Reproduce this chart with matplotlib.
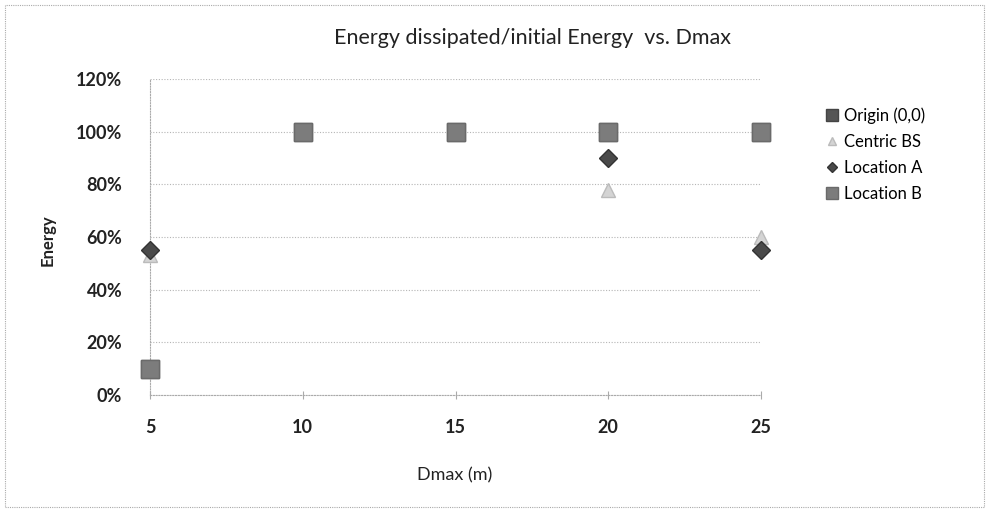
import numpy as np
import matplotlib
matplotlib.use("Agg")
import matplotlib.pyplot as plt
from matplotlib.patches import Rectangle
from matplotlib.ticker import PercentFormatter

plt.rcParams['font.family'] = ['Lato', 'DejaVu Sans']

# data
dmax = [5, 10, 15, 20, 25]
origin = [0.10, 1.00, 1.00, 1.00, 1.00]
centric_bs = [0.53, np.nan, np.nan, 0.78, 0.60]
location_a = [0.55, np.nan, np.nan, 0.90, 0.55]
location_b = [0.10, 1.00, 1.00, 1.00, 1.00]
x_ticks = [5, 10, 15, 20, 25]
y_ticks = [0, 0.2, 0.4, 0.6, 0.8, 1.0, 1.2]

fig = plt.figure(figsize=(9.89, 5.12), dpi=100)
ax = fig.add_axes([150/989, 117/512, 611/989, 316/512])

# outer chart border (excel style)
fig.patches.append(Rectangle((5/989, 5/512), 979/989, 502/512, transform=fig.transFigure,
                             fill=False, ec='#aaaaaa', lw=0.8, ls=(0, (1, 1))))

ax.plot(dmax, origin, 's', ms=13.5, color='#555555', mec='#444444', clip_on=False, zorder=3, label='Origin (0,0)')
ax.plot(dmax, centric_bs, '^', ms=10, color='#d4d4d4', mec='#bbbbbb', clip_on=False, zorder=4, label='Centric BS')
ax.plot(dmax, location_a, 'D', ms=9, color='#4a4a4a', mec='#333333', clip_on=False, zorder=5, label='Location A')
ax.plot(dmax, location_b, 's', ms=13.5, color='#7c7c7c', mec='#6a6a6a', clip_on=False, zorder=6, label='Location B')

ax.set_xlim(5, 25)
ax.set_ylim(0, 1.2)
ax.set_xticks(x_ticks)
ax.set_yticks(y_ticks)
ax.yaxis.set_major_formatter(PercentFormatter(1.0, decimals=0))
ax.grid(axis='y', color='#b5b5b5', lw=0.8, ls=(0, (1, 1.5)))
ax.set_axisbelow(True)

for s in ['top', 'right']:
    ax.spines[s].set_visible(False)
for s in ['left', 'bottom']:
    ax.spines[s].set_color('#aaaaaa')
    ax.spines[s].set_linestyle((0, (1, 1.5)))
    ax.spines[s].set_linewidth(0.8)

ax.tick_params(axis='x', direction='inout', length=6, color='#aaaaaa', pad=14, labelsize=13, labelcolor='#222222')
ax.tick_params(axis='y', length=0, pad=20, labelsize=13, labelcolor='#222222')
for lbl in ax.get_xticklabels() + ax.get_yticklabels():
    lbl.set_fontweight('bold')

fig.text(532/989, 1 - 38/512, 'Energy dissipated/initial Energy  vs. Dmax', ha='center', va='center',
         fontsize=15.5, color='#222222')
fig.text(48/989, 1 - 240/512, 'Energy', rotation=90, ha='center', va='center', fontsize=12,
         fontweight='bold', color='#222222')
fig.text(455/989, 1 - 475/512, 'Dmax (m)', ha='center', va='center', fontsize=13, color='#222222')

fig.legend(loc='upper left', bbox_to_anchor=(812/989, 1 - 92/512), frameon=False,
           fontsize=12, handlelength=0.6, handletextpad=0.4, labelspacing=0.6, markerscale=0.6)

fig.savefig('out.png', dpi=100)
